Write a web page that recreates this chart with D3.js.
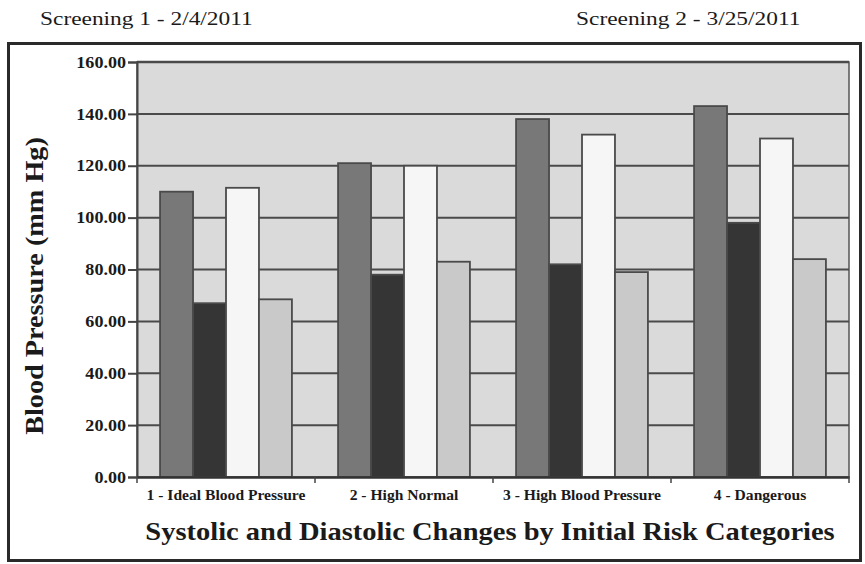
<!DOCTYPE html>
<html><head><meta charset="utf-8">
<script src="https://cdn.jsdelivr.net/npm/d3@7/dist/d3.min.js"></script>
<style>
html,body{margin:0;padding:0;background:#fff;}
svg{display:block;}
text{font-family:"Liberation Serif","DejaVu Serif",serif;fill:#1a1a1a;}
</style></head><body>
<svg id="chart" width="865" height="564"></svg>
<script>
const categories = ["1 - Ideal Blood Pressure","2 - High Normal","3 - High Blood Pressure","4 - Dangerous"];
const seriesNames = ["Systolic Screening 1","Diastolic Screening 1","Systolic Screening 2","Diastolic Screening 2"];
const systolic1  = [110, 121, 138, 143];
const diastolic1 = [67, 78, 82, 98];
const systolic2  = [111.5, 120, 132, 130.5];
const diastolic2 = [68.5, 83, 79, 84];
const yTicks = [0,20,40,60,80,100,120,140,160];
const headerLabels = ["Screening 1 - 2/4/2011","Screening 2 - 3/25/2011"];
const yTitle = "Blood Pressure (mm Hg)";
const xTitle = "Systolic and Diastolic Changes by Initial Risk Categories";

(function(){
const colors = ["#787878","#353535","#f6f6f6","#c9c9c9"];
const seriesData = [systolic1, diastolic1, systolic2, diastolic2];

const svg = d3.select("#chart");
const pLeft = 137, pRight = 849, pTop = 62, pBottom = 477;

const x0 = d3.scaleBand().domain(categories).range([pLeft, pRight]).paddingInner(0).paddingOuter(0);
const x1 = d3.scaleBand().domain(seriesNames).range([0, x0.bandwidth()]).paddingInner(0).paddingOuter(0.7);
const y = d3.scaleLinear().domain([0,160]).range([pBottom, pTop]);

// header (glyphs widened horizontally to approximate the reference's wider serif face)
svg.append("text").attr("transform", "translate(40,25) scale(1.2,1)").attr("font-size", 19.5).text(headerLabels[0]);
svg.append("text").attr("transform", "translate(576,25) scale(1.2,1)").attr("font-size", 19.5).text(headerLabels[1]);

// outer frame
svg.append("rect").attr("x", 8.5).attr("y", 43.5).attr("width", 852).attr("height", 517)
  .attr("fill", "#fff").attr("stroke", "#2a2a2a").attr("stroke-width", 3);

// plot background
svg.append("rect").attr("x", pLeft).attr("y", pTop).attr("width", pRight-pLeft).attr("height", pBottom-pTop)
  .attr("fill", "#dadada").attr("stroke", "#555").attr("stroke-width", 1.5);

// grid lines
svg.append("g").selectAll("line").data(yTicks.filter(d => d>0)).join("line")
  .attr("x1", pLeft).attr("x2", pRight).attr("y1", d => y(d)).attr("y2", d => y(d))
  .attr("stroke", "#4a4a4a").attr("stroke-width", d => d===160 ? 2.5 : 2);

// bars
const groups = svg.append("g").selectAll("g").data(categories).join("g")
  .attr("transform", d => `translate(${x0(d)},0)`);
groups.selectAll("rect").data((c,i) => seriesNames.map((s,j) => ({s, v: seriesData[j][i], j})))
  .join("rect")
  .attr("x", d => x1(d.s)).attr("width", x1.bandwidth())
  .attr("y", d => y(d.v)).attr("height", d => y(0) - y(d.v))
  .attr("fill", d => colors[d.j]).attr("stroke", "#4a4a4a").attr("stroke-width", 1.8);

// y axis
const yAxis = d3.axisLeft(y).tickValues(yTicks).tickSize(9).tickPadding(2).tickFormat(d3.format(".2f"));
const gy = svg.append("g").attr("transform", `translate(${pLeft},0)`).call(yAxis);
gy.select(".domain").attr("stroke", "#444").attr("stroke-width", 2);
gy.selectAll(".tick line").attr("stroke", "#444").attr("stroke-width", 2);
const ySx = 1.13;
gy.selectAll(".tick text").attr("font-family", "Liberation Serif").attr("font-weight", "bold")
  .attr("font-size", 16).attr("fill", "#1a1a1a")
  .attr("x", -11 / ySx).attr("transform", `scale(${ySx},1)`);

// x axis
const xAxis = d3.axisBottom(x0).tickSize(0).tickPadding(12);
const gx = svg.append("g").attr("transform", `translate(0,${pBottom})`).call(xAxis);
gx.select(".domain").attr("stroke", "#333").attr("stroke-width", 2.5);
gx.selectAll(".tick text").attr("font-family", "Liberation Serif").attr("font-weight", "bold")
  .attr("font-size", 15).attr("fill", "#1a1a1a").attr("transform", "scale(1.04,1)");
// category separators
svg.append("g").selectAll("line").data(categories.concat([null])).join("line")
  .attr("x1", (d,i) => i < categories.length ? x0(d) : pRight)
  .attr("x2", (d,i) => i < categories.length ? x0(d) : pRight)
  .attr("y1", pBottom).attr("y2", pBottom + 6)
  .attr("stroke", "#444").attr("stroke-width", 1.5);

// y title
svg.append("text").attr("transform", `translate(43,286) rotate(-90) scale(1.13,1)`).attr("text-anchor", "middle")
  .attr("font-weight", "bold").attr("font-size", 25).text(yTitle);

// x title
svg.append("text").attr("transform", "translate(490,540) scale(1.14,1)").attr("text-anchor", "middle")
  .attr("font-weight", "bold").attr("font-size", 25).text(xTitle);
})();
</script>
</body></html>
